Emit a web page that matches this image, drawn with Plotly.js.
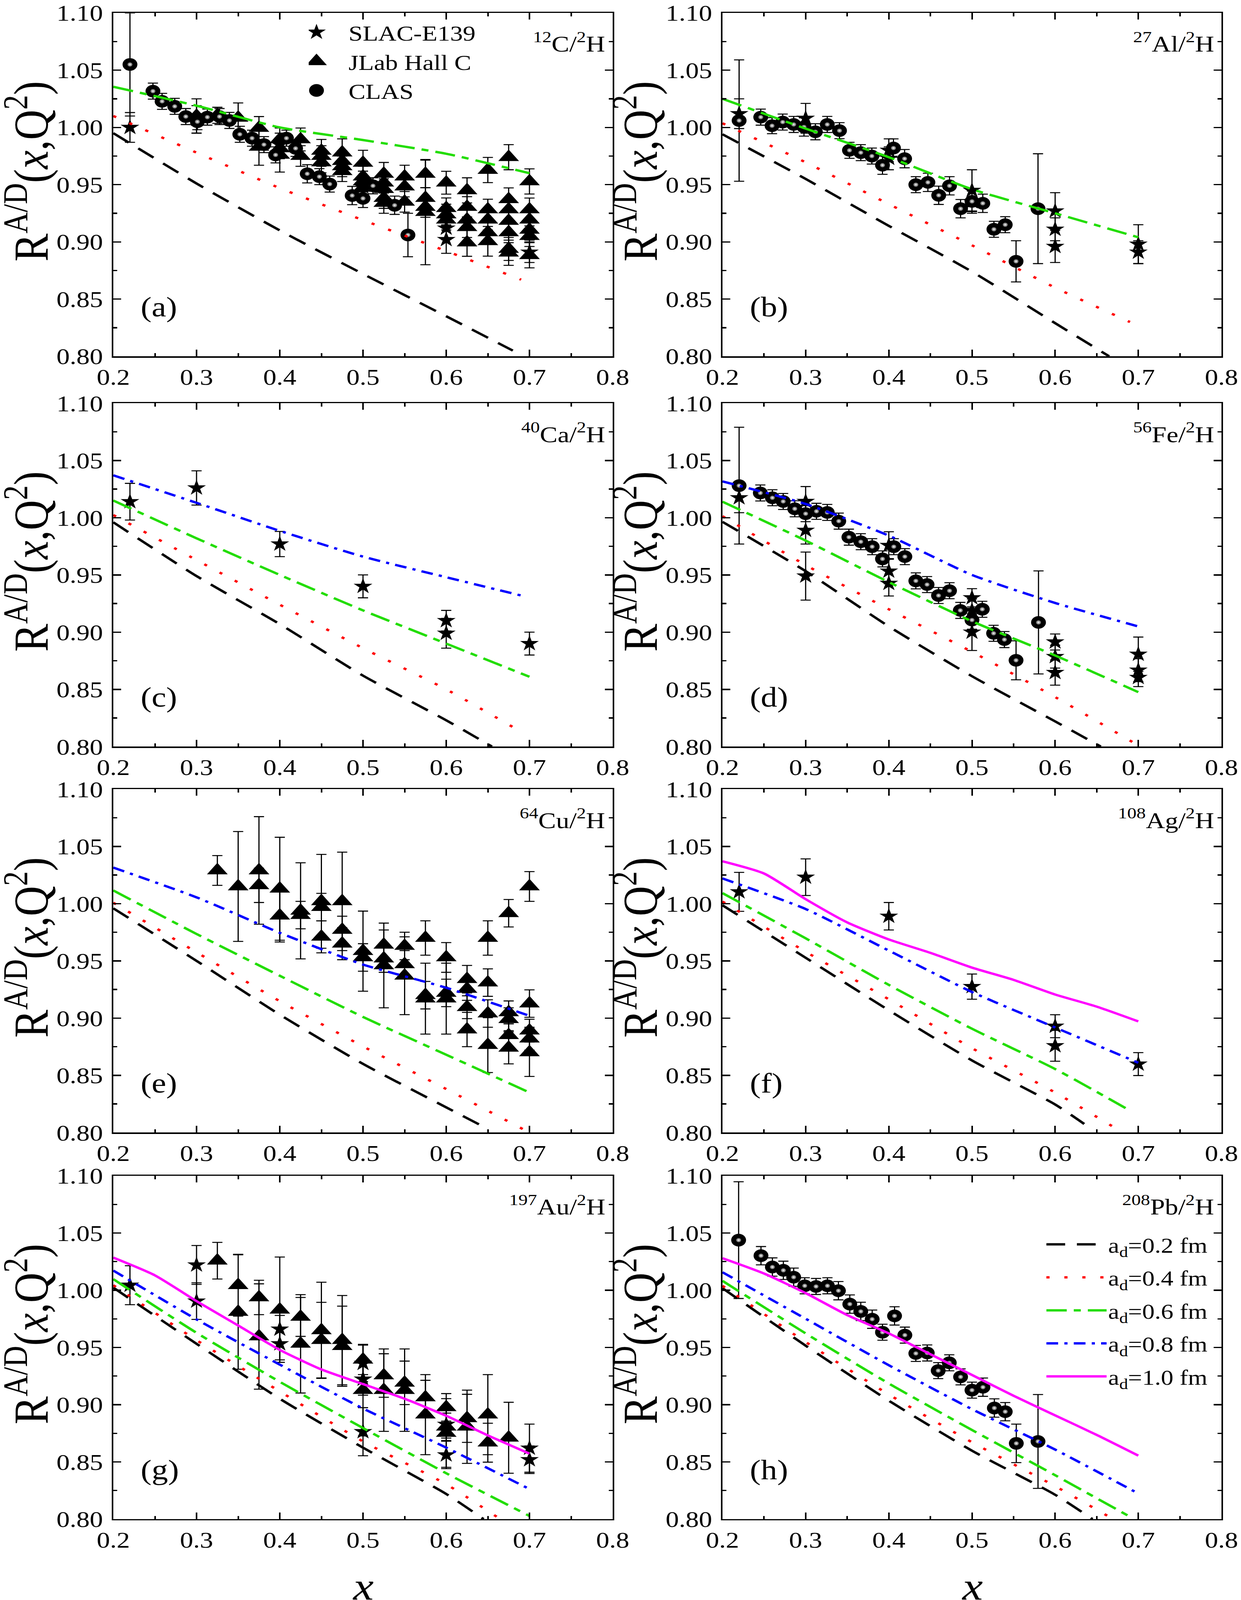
<!DOCTYPE html>
<html>
<head>
<meta charset="utf-8">
<script src="https://cdn.plot.ly/plotly-3.0.1.min.js"></script>
<style>
html, body { margin: 0; padding: 0; background: #fff; overflow: hidden; }
#frame { overflow: hidden; }
</style>
</head>
<body>
<div id="frame"><div id="chart" style="width:3176px;height:4809px"></div></div>
<script>
// ===============================================
// DATA
// ===============================================

// x grids of the model curves
const xCoarse = [0.2, 0.3, 0.4, 0.5, 0.6, 0.7];
const xFine = [0.2, 0.25, 0.3, 0.35, 0.4, 0.45, 0.5, 0.55, 0.6, 0.65, 0.7];

// (a) 12C/2H
const slacA_x = [0.22, 0.30, 0.40, 0.50, 0.60, 0.60, 0.70];
const slacA_y = [1.000, 1.007, 0.985, 0.948, 0.912, 0.902, 0.891];
const slacA_e = [0.013, 0.012, 0.010, 0.009, 0.010, 0.012, 0.009];
const jlabA_x = [0.30,0.325,0.35,0.375,0.375,0.40,0.40,0.40,0.425,0.425,0.45,0.45,0.45,0.475,0.475,0.475,0.475,
  0.50,0.50,0.50,0.50,0.525,0.525,0.525,0.525,0.525,0.55,0.55,0.55,0.575,0.575,0.575,0.575,0.60,0.60,0.60,0.60,
  0.625,0.625,0.625,0.625,0.625,0.65,0.65,0.65,0.65,0.65,0.675,0.675,0.675,0.675,0.675,0.675,0.675,
  0.70,0.70,0.70,0.70,0.70,0.70];
const jlabA_y = [1.010,1.0106,1.0084,0.9995,0.983,0.9895,0.9817,0.976,0.9895,0.975,0.9795,0.975,0.9694,0.978,0.9706,0.966,0.9617,
  0.969,0.957,0.9528,0.9472,0.9594,0.9517,0.9461,0.9383,0.934,0.957,0.9483,0.935,0.9594,0.9383,0.9305,0.926,0.9517,0.9294,0.9239,0.9194,
  0.945,0.9305,0.9194,0.9128,0.8994,0.9628,0.9283,0.9194,0.9083,0.9005,0.974,0.9372,0.9283,0.9183,0.9083,0.8938,0.8905,
  0.9528,0.9283,0.9194,0.9105,0.905,0.8883];
const jlabA_e = [0.015,0.007,0.013,0.010,0.016,0.010,0.009,0.015,0.010,0.009,0.010,0.009,0.009,0.012,0.009,0.009,0.009,
  0.011,0.009,0.009,0.009,0.010,0.009,0.009,0.009,0.009,0.010,0.009,0.009,0.012,0.009,0.009,0.046,0.010,0.009,0.009,0.009,
  0.011,0.009,0.009,0.009,0.012,0.011,0.009,0.009,0.009,0.013,0.011,0.010,0.009,0.009,0.009,0.010,0.011,
  0.011,0.010,0.009,0.009,0.009,0.011];
const clasA_x = [0.22,0.2476,0.2586,0.2738,0.2871,0.301,0.313,0.3276,0.3395,0.352,0.3667,0.381,0.395,0.408,0.419,0.433,0.4476,0.46,0.487,0.5,0.512,0.538,0.554];
const clasA_y = [1.055,1.0317,1.0228,1.0184,1.0095,1.005,1.009,1.0095,1.0061,0.994,0.9906,0.985,0.976,0.9906,0.9817,0.9595,0.957,0.9505,0.9405,0.938,0.949,0.932,0.906];
const clasA_e = [0.045,0.007,0.007,0.007,0.007,0.007,0.007,0.007,0.007,0.007,0.007,0.007,0.007,0.007,0.007,0.008,0.007,0.007,0.008,0.008,0.007,0.008,0.019];
const blackA_x = [0.2, 0.3, 0.4, 0.5, 0.6, 0.68];
const blackA_y = [0.995, 0.951, 0.910, 0.872, 0.835, 0.805];
const redA_x = [0.2, 0.3, 0.4, 0.5, 0.6, 0.69];
const redA_y = [1.010, 0.978, 0.947, 0.919, 0.892, 0.867];
const greenA_y = [1.0355, 1.019, 1.000, 0.989, 0.977, 0.960];

// (b) 27Al/2H
const slacB_x = [0.22, 0.30, 0.40, 0.40, 0.50, 0.50, 0.60, 0.60, 0.60, 0.70, 0.70];
const slacB_y = [1.012, 1.008, 0.980, 0.973, 0.945, 0.935, 0.927, 0.911, 0.896, 0.898, 0.891];
const slacB_e = [0.013, 0.013, 0.010, 0.010, 0.018, 0.010, 0.016, 0.010, 0.014, 0.017, 0.010];
const clasB_x = [0.22,0.246,0.2596,0.2724,0.2856,0.298,0.3117,0.326,0.3407,0.3527,0.3663,0.3796,0.3924,0.4056,0.419,0.4325,0.447,0.46,0.473,0.4863,0.5,0.513,0.5264,0.54,0.553,0.5794];
const clasB_y = [1.006,1.009,1.0015,1.0047,1.0026,1.0004,0.9962,1.0026,0.9972,0.980,0.978,0.975,0.967,0.982,0.9727,0.950,0.952,0.9407,0.949,0.929,0.9354,0.9337,0.911,0.915,0.883,0.929];
const clasB_e = [0.053,0.007,0.007,0.007,0.007,0.008,0.007,0.007,0.007,0.007,0.007,0.007,0.008,0.008,0.008,0.007,0.008,0.008,0.008,0.008,0.009,0.008,0.007,0.007,0.018,0.048];
const blackB_x = [0.2, 0.3, 0.4, 0.5, 0.6, 0.665];
const blackB_y = [0.994, 0.955, 0.914, 0.874, 0.829, 0.800];
const redB_x = [0.2, 0.3, 0.4, 0.5, 0.6, 0.69];
const redB_y = [1.0036, 0.9695, 0.933, 0.897, 0.860, 0.830];
const greenB_y = [1.025, 0.999, 0.974, 0.946, 0.925, 0.904];

// (c) 40Ca/2H
const slacC_x = [0.22, 0.30, 0.40, 0.50, 0.60, 0.60, 0.70];
const slacC_y = [1.014, 1.026, 0.977, 0.940, 0.910, 0.899, 0.890];
const slacC_e = [0.016, 0.015, 0.011, 0.010, 0.009, 0.013, 0.010];
const blackC_x = [0.2, 0.3, 0.4, 0.5, 0.6, 0.655];
const blackC_y = [0.996, 0.949, 0.907, 0.862, 0.823, 0.800];
const redC_x = [0.2, 0.3, 0.4, 0.5, 0.6, 0.685];
const redC_y = [1.0023, 0.963, 0.924, 0.886, 0.850, 0.815];
const greenC_y = [1.015, 0.982, 0.950, 0.919, 0.890, 0.861];
const blueC_x = [0.2, 0.3, 0.4, 0.5, 0.6, 0.69];
const blueC_y = [1.037, 1.013, 0.9885, 0.966, 0.948, 0.932];

// (d) 56Fe/2H
const slacD_x = [0.22,0.30,0.30,0.30,0.40,0.40,0.40,0.50,0.50,0.50,0.60,0.60,0.60,0.70,0.70,0.70];
const slacD_y = [1.0174,1.0142,0.989,0.949,0.9757,0.9533,0.9426,0.930,0.919,0.900,0.8914,0.8786,0.8647,0.8807,0.8668,0.8604];
const slacD_e = [0.013,0.013,0.012,0.021,0.012,0.011,0.011,0.008,0.010,0.016,0.007,0.010,0.011,0.015,0.010,0.008];
const clasD_x = [0.22,0.2455,0.26,0.273,0.2869,0.30,0.313,0.326,0.3398,0.352,0.3663,0.38,0.3924,0.406,0.4193,0.4325,0.446,0.4598,0.473,0.486,0.50,0.5124,0.526,0.539,0.553,0.58];
const clasD_y = [1.028,1.0216,1.0174,1.0142,1.0078,1.0035,1.0056,1.0046,0.997,0.983,0.979,0.9747,0.964,0.9747,0.966,0.9448,0.9416,0.932,0.9362,0.919,0.9106,0.920,0.899,0.8935,0.8754,0.9085];
const clasD_e = [0.051,0.007,0.007,0.007,0.007,0.007,0.007,0.007,0.007,0.007,0.007,0.007,0.007,0.007,0.007,0.007,0.007,0.007,0.007,0.007,0.008,0.007,0.007,0.007,0.017,0.045];
const blackD_x = [0.2, 0.3, 0.4, 0.5, 0.6, 0.655];
const blackD_y = [0.9964, 0.9533, 0.905, 0.8615, 0.822, 0.800];
const redD_y = [1.0013, 0.9586, 0.920, 0.8828, 0.8433, 0.801];
const greenD_y = [1.014, 0.980, 0.9437, 0.9095, 0.8796, 0.8476];
const blueD_y = [1.0317, 1.012, 0.9843, 0.950, 0.9255, 0.905];

// (e) 64Cu/2H
const jlabE_x = [0.325,0.35,0.375,0.375,0.40,0.40,0.425,0.425,0.45,0.45,0.45,0.475,0.475,0.475,0.50,0.50,
  0.525,0.525,0.525,0.55,0.55,0.55,0.575,0.575,0.575,0.60,0.60,0.60,0.625,0.625,0.625,0.625,
  0.65,0.65,0.65,0.65,0.675,0.675,0.675,0.675,0.675,0.70,0.70,0.70,0.70,0.70];
const jlabE_y = [1.029,1.015,1.029,1.016,1.013,0.9895,0.9937,0.990,1.002,0.997,0.971,1.002,0.977,0.965,0.9585,0.953,
  0.964,0.952,0.946,0.963,0.947,0.937,0.970,0.920,0.917,0.953,0.922,0.917,0.934,0.9255,0.9095,0.890,
  0.970,0.931,0.904,0.8764,0.9916,0.905,0.899,0.885,0.874,1.015,0.9127,0.889,0.882,0.870];
const jlabE_e = [0.013,0.048,0.047,0.015,0.045,0.023,0.042,0.012,0.041,0.012,0.014,0.043,0.012,0.014,0.035,0.012,
  0.013,0.012,0.037,0.012,0.012,0.034,0.015,0.012,0.031,0.013,0.012,0.031,0.012,0.010,0.010,0.015,
  0.015,0.012,0.012,0.024,0.012,0.010,0.010,0.010,0.014,0.013,0.012,0.010,0.010,0.021];
const blackE_x = [0.2, 0.3, 0.4, 0.5, 0.6, 0.645];
const blackE_y = [0.9959, 0.950, 0.903, 0.860, 0.822, 0.805];
const redE_y = [1.0008, 0.9575, 0.9148, 0.8753, 0.838, 0.800];
const greenE_y = [1.0115, 0.9735, 0.937, 0.901, 0.868, 0.835];
const blueE_y = [1.0315, 1.0055, 0.9745, 0.9468, 0.9265, 0.902];

// (f) 108Ag/2H
const slacF_x = [0.22, 0.30, 0.40, 0.50, 0.60, 0.60, 0.70];
const slacF_y = [1.0103, 1.0231, 0.989, 0.9275, 0.8929, 0.8758, 0.8598];
const slacF_e = [0.017, 0.016, 0.012, 0.011, 0.010, 0.0135, 0.010];
const blackF_x = [0.2, 0.3, 0.4, 0.5, 0.6, 0.635];
const blackF_y = [0.9986, 0.9527, 0.9068, 0.863, 0.8245, 0.8075];
const redF_x = [0.2, 0.3, 0.4, 0.5, 0.6, 0.675];
const redF_y = [1.0018, 0.958, 0.9164, 0.8737, 0.835, 0.8028];
const greenF_x = [0.2, 0.3, 0.4, 0.5, 0.6, 0.69];
const greenF_y = [1.0092, 0.9697, 0.929, 0.8907, 0.8555, 0.8192];
const blueF_y = [1.022, 0.9953, 0.959, 0.9228, 0.8918, 0.861];
const magentaF_y = [1.037, 1.0263, 1.0039, 0.9836, 0.9687, 0.957, 0.9441, 0.9334, 0.9206, 0.910, 0.8971];

// (g) 197Au/2H
const slacG_x = [0.22,0.30,0.30,0.40,0.40,0.50,0.50,0.50,0.60,0.60,0.70,0.70];
const slacG_y = [1.0044,1.0221,0.9905,0.966,0.9532,0.9361,0.9223,0.8764,0.8828,0.8561,0.862,0.8519];
const slacG_e = [0.017,0.017,0.016,0.012,0.014,0.016,0.014,0.021,0.012,0.012,0.021,0.012];
const jlabG_x = [0.325,0.35,0.35,0.375,0.375,0.40,0.425,0.425,0.45,0.45,0.475,0.475,0.50,0.50,
  0.525,0.525,0.55,0.55,0.575,0.575,0.60,0.60,0.60,0.625,0.625,0.65,0.65,0.675];
const jlabG_y = [1.0258,1.0044,0.981,0.9937,0.9596,0.983,0.9767,0.9532,0.965,0.9564,0.9564,0.9511,0.9393,0.9127,
  0.9255,0.9127,0.9191,0.9127,0.9063,0.8913,0.8977,0.8807,0.8753,0.8881,0.8807,0.8913,0.8668,0.8711];
const jlabG_e = [0.016,0.027,0.050,0.015,0.046,0.046,0.017,0.043,0.042,0.033,0.039,0.035,0.013,0.040,
  0.019,0.036,0.019,0.036,0.015,0.035,0.012,0.012,0.030,0.021,0.032,0.035,0.017,0.031];
const blackG_x = [0.2, 0.3, 0.4, 0.5, 0.6, 0.645];
const blackG_y = [1.0023, 0.9532, 0.9052, 0.8625, 0.822, 0.800];
const redG_x = [0.2, 0.3, 0.4, 0.5, 0.6, 0.665];
const redG_y = [1.0044, 0.9564, 0.9116, 0.8679, 0.8305, 0.800];
const greenG_y = [1.0097, 0.9628, 0.920, 0.8796, 0.8401, 0.8028];
const blueG_y = [1.0172, 0.9745, 0.935, 0.8967, 0.8625, 0.8263];
const magentaG_y = [1.0285, 1.013, 0.9905, 0.9692, 0.9479, 0.9308, 0.918, 0.9052, 0.8903, 0.8732, 0.8572];

// (h) 208Pb/2H
const clasH_x = [0.2194,0.2463,0.26,0.2732,0.2856,0.2989,0.3125,0.3262,0.3394,0.3531,0.3663,0.38,0.3924,0.4069,0.4193,0.4325,0.4462,0.4594,0.4727,0.4863,0.5,0.5132,0.5269,0.54,0.5533,0.5794];
const clasH_y = [1.0438,1.0302,1.0203,1.0174,1.0114,1.0039,1.0033,1.0039,0.9996,0.9879,0.9815,0.9747,0.9633,0.9776,0.9608,0.9448,0.9452,0.9298,0.9366,0.9243,0.9127,0.9153,0.8971,0.8939,0.8662,0.8679];
const clasH_e = [0.051,0.008,0.008,0.008,0.008,0.007,0.007,0.007,0.008,0.008,0.008,0.008,0.007,0.008,0.007,0.007,0.007,0.007,0.007,0.007,0.007,0.008,0.008,0.008,0.0168,0.041];
const blackH_x = [0.2, 0.3, 0.4, 0.5, 0.6, 0.645];
const blackH_y = [1.0018, 0.9516, 0.9035, 0.8598, 0.8213, 0.800];
const redH_x = [0.2, 0.3, 0.4, 0.5, 0.6, 0.67];
const redH_y = [1.0039, 0.9548, 0.9089, 0.8672, 0.8288, 0.800];
const greenH_x = [0.2, 0.3, 0.4, 0.5, 0.6, 0.69];
const greenH_y = [1.0082, 0.9623, 0.9185, 0.8779, 0.8384, 0.8021];
const blueH_y = [1.0157, 0.9751, 0.9345, 0.8961, 0.8608, 0.8224];
const magentaH_y = [1.028, 1.0146, 0.9975, 0.9783, 0.9623, 0.9441, 0.926, 0.9078, 0.8907, 0.8736, 0.8555];

// axis ticks / labels
const yTickStep = 0.05;
const xTickStep = 0.1;
const panelLabels = ["(a)", "(b)", "(c)", "(d)", "(e)", "(f)", "(g)", "(h)"];
const nucleusLabels = [
    "<sup>12</sup>C/<sup>2</sup>H", "<sup>27</sup>Al/<sup>2</sup>H",
    "<sup>40</sup>Ca/<sup>2</sup>H", "<sup>56</sup>Fe/<sup>2</sup>H",
    "<sup>64</sup>Cu/<sup>2</sup>H", "<sup>108</sup>Ag/<sup>2</sup>H",
    "<sup>197</sup>Au/<sup>2</sup>H", "<sup>208</sup>Pb/<sup>2</sup>H"
];

// ===============================================
// STYLES
// ===============================================
const FONT = "Liberation Serif, Times New Roman, serif";
const W = 3176, H = 4809;

const curveStyle = {
    d02: { name: "a<sub>d</sub>=0.2 fm", color: "#000000", dash: "48px,30px" },
    d04: { name: "a<sub>d</sub>=0.4 fm", color: "#ff0000", dash: "8px,38px" },
    d06: { name: "a<sub>d</sub>=0.6 fm", color: "#22dd00", dash: "52px,18px,18px,18px" },
    d08: { name: "a<sub>d</sub>=0.8 fm", color: "#0000ff", dash: "30px,16px,8px,16px" },
    d10: { name: "a<sub>d</sub>=1.0 fm", color: "#ff00ff", dash: "solid" }
};

// panel table built from the arrays above
const panels = [
    { slac: [slacA_x, slacA_y, slacA_e], jlab: [jlabA_x, jlabA_y, jlabA_e], clas: [clasA_x, clasA_y, clasA_e],
      curves: [[blackA_x, blackA_y, "d02"], [redA_x, redA_y, "d04"], [xCoarse, greenA_y, "d06"]] },
    { slac: [slacB_x, slacB_y, slacB_e], clas: [clasB_x, clasB_y, clasB_e],
      curves: [[blackB_x, blackB_y, "d02"], [redB_x, redB_y, "d04"], [xCoarse, greenB_y, "d06"]] },
    { slac: [slacC_x, slacC_y, slacC_e],
      curves: [[blackC_x, blackC_y, "d02"], [redC_x, redC_y, "d04"], [xCoarse, greenC_y, "d06"], [blueC_x, blueC_y, "d08"]] },
    { slac: [slacD_x, slacD_y, slacD_e], clas: [clasD_x, clasD_y, clasD_e],
      curves: [[blackD_x, blackD_y, "d02"], [xCoarse, redD_y, "d04"], [xCoarse, greenD_y, "d06"], [xCoarse, blueD_y, "d08"]] },
    { jlab: [jlabE_x, jlabE_y, jlabE_e],
      curves: [[blackE_x, blackE_y, "d02"], [xCoarse, redE_y, "d04"], [xCoarse, greenE_y, "d06"], [xCoarse, blueE_y, "d08"]] },
    { slac: [slacF_x, slacF_y, slacF_e],
      curves: [[blackF_x, blackF_y, "d02"], [redF_x, redF_y, "d04"], [greenF_x, greenF_y, "d06"], [xCoarse, blueF_y, "d08"], [xFine, magentaF_y, "d10"]] },
    { slac: [slacG_x, slacG_y, slacG_e], jlab: [jlabG_x, jlabG_y, jlabG_e],
      curves: [[blackG_x, blackG_y, "d02"], [redG_x, redG_y, "d04"], [xCoarse, greenG_y, "d06"], [xCoarse, blueG_y, "d08"], [xFine, magentaG_y, "d10"]] },
    { clas: [clasH_x, clasH_y, clasH_e],
      curves: [[blackH_x, blackH_y, "d02"], [redH_x, redH_y, "d04"], [greenH_x, greenH_y, "d06"], [xCoarse, blueH_y, "d08"], [xFine, magentaH_y, "d10"]] }
];

// page geometry (pixels)
const colLeft = [290, 1849];
const colRight = [1568, 3126];
const rowTop = [39, 1212, 2372, 3534];
const plotH = 1032;

// ===============================================
// BUILD TRACES + AXES
// ===============================================
const traces = [];
const layout = {
    width: W, height: H,
    margin: { l: 0, r: 0, t: 0, b: 0 },
    paper_bgcolor: "white", plot_bgcolor: "white",
    font: { family: FONT, color: "black" },
    showlegend: true,
    annotations: [],
    legend: {
        x: 790 / W, y: 1 - 48 / H, xanchor: "left", yanchor: "top",
        bgcolor: "rgba(0,0,0,0)", borderwidth: 0,
        font: { family: FONT, size: 65, color: "black" },
        itemwidth: 92, itemclick: false
    },
    legend2: {
        x: 2673 / W, y: 1 - 3692 / H, xanchor: "left", yanchor: "top",
        bgcolor: "rgba(0,0,0,0)", borderwidth: 0,
        font: { family: FONT, size: 64, color: "black" },
        itemwidth: 153, itemclick: false,
        traceorder: "grouped", tracegroupgap: 13
    }
};

function errBar(arr) {
    return { type: "data", array: arr, visible: true, color: "black", thickness: 3, width: 13 };
}

panels.forEach((p, i) => {
    const n = i + 1;
    const sfx = n === 1 ? "" : String(n);
    const xa = "x" + sfx, ya = "y" + sfx;
    const col = i % 2, row = Math.floor(i / 2);
    const inLegend1 = i === 0, inLegend2 = i === 7;

    // axes
    const tickfont = { family: FONT, size: 68, color: "black" };
    layout["xaxis" + sfx] = {
        domain: [colLeft[col] / W, colRight[col] / W], anchor: ya,
        range: [0.2, 0.8], tick0: 0.2, dtick: xTickStep, tickformat: ".1f",
        showline: true, linecolor: "black", linewidth: 4, mirror: "ticks",
        ticks: "inside", ticklen: 20, tickwidth: 4, tickcolor: "black",
        minor: { dtick: xTickStep / 2, ticks: "inside", ticklen: 10, tickwidth: 4, tickcolor: "black" },
        showgrid: false, zeroline: false, tickfont: tickfont, ticklabelstandoff: 0,
        fixedrange: true
    };
    layout["yaxis" + sfx] = {
        domain: [1 - (rowTop[row] + plotH) / H, 1 - rowTop[row] / H], anchor: xa,
        range: [0.8, 1.1], tick0: 0.8, dtick: yTickStep, tickformat: ".2f",
        showline: true, linecolor: "black", linewidth: 4, mirror: "ticks",
        ticks: "inside", ticklen: 20, tickwidth: 4, tickcolor: "black",
        minor: { dtick: yTickStep / 2, ticks: "inside", ticklen: 10, tickwidth: 4, tickcolor: "black" },
        showgrid: false, zeroline: false, tickfont: tickfont, ticklabelstandoff: 9,
        fixedrange: true
    };

    // data points
    if (p.slac) {
        traces.push({
            x: p.slac[0], y: p.slac[1], error_y: errBar(p.slac[2]),
            type: "scatter", mode: "markers", xaxis: xa, yaxis: ya,
            name: "SLAC-E139", showlegend: inLegend1, legend: "legend",
            marker: { symbol: "star", size: 36, color: "black", line: { width: 0 } }
        });
    }
    if (p.jlab) {
        traces.push({
            x: p.jlab[0], y: p.jlab[1], error_y: errBar(p.jlab[2]),
            type: "scatter", mode: "markers", xaxis: xa, yaxis: ya,
            name: "JLab Hall C", showlegend: inLegend1, legend: "legend",
            marker: { symbol: "triangle-up", size: 46, color: "black", line: { width: 0 } }
        });
    }
    if (p.clas) {
        traces.push({
            x: p.clas[0], y: p.clas[1], error_y: errBar(p.clas[2]),
            type: "scatter", mode: "markers", xaxis: xa, yaxis: ya,
            name: "CLAS", showlegend: inLegend1, legend: "legend",
            marker: { symbol: "circle", size: 38, color: "black", line: { width: 0 } }
        });
        // shiny highlight on the spheres
        traces.push({
            x: p.clas[0], y: p.clas[1],
            type: "scatter", mode: "markers", xaxis: xa, yaxis: ya,
            showlegend: false, hoverinfo: "skip",
            marker: { symbol: "circle", size: 13, color: "#555555", line: { width: 0 },
                      gradient: { type: "radial", color: "#ffffff" } }
        });
    }

    // model curves
    p.curves.forEach(c => {
        const st = curveStyle[c[2]];
        traces.push({
            x: c[0], y: c[1], type: "scatter", mode: "lines",
            xaxis: xa, yaxis: ya, name: st.name,
            showlegend: inLegend2, legend: "legend2", legendgroup: c[2],
            line: { color: st.color, width: 7, dash: st.dash, shape: "spline", smoothing: 0.6 }
        });
    });

    // panel letter + nucleus ratio
    layout.annotations.push({
        xref: xa, yref: ya, x: 0.232, y: 0.843, xanchor: "left", yanchor: "middle",
        text: panelLabels[i], showarrow: false, font: { family: FONT, size: 84, color: "black" }
    });
    layout.annotations.push({
        xref: xa, yref: ya, x: 0.792, y: 1.074, xanchor: "right", yanchor: "middle",
        text: nucleusLabels[i], showarrow: false, font: { family: FONT, size: 68, color: "black" }
    });

    // y title
    layout.annotations.push({
        xref: "paper", yref: "paper",
        x: (colLeft[col] - 220) / W, y: 1 - (rowTop[row] + 476) / H,
        xanchor: "center", yanchor: "middle", textangle: -90,
        text: "R<sup>A/D</sup>(<i>x</i>,Q<sup>2</sup>)", showarrow: false,
        font: { family: FONT, size: 126, color: "black" }
    });

    // x title under the bottom row
    if (row === 3) {
        layout.annotations.push({
            xref: "paper", yref: "paper",
            x: (colLeft[col] + colRight[col]) / 2 / W, y: 1 - 4768 / H,
            xanchor: "center", yanchor: "middle",
            text: "<i>x</i>", showarrow: false,
            font: { family: FONT, size: 118, color: "black" }
        });
    }
});

// ===============================================
// RENDER
// ===============================================
const gd = document.getElementById("chart");
const frame = document.getElementById("frame");

// if the visible window is smaller than the figure, shrink the whole figure into it
function fitToWindow() {
    const vw = window.innerWidth || W;
    const vh = window.innerHeight || H;
    const sx = Math.min(1, vw / W);
    const sy = Math.min(1, vh / H);
    frame.style.width = Math.round(W * sx) + "px";
    frame.style.height = Math.round(H * sy) + "px";
    if (sx < 0.999 || sy < 0.999) {
        gd.style.transformOrigin = "0 0";
        gd.style.transform = "scale(" + sx + "," + sy + ")";
    } else {
        gd.style.transform = "none";
    }
}

Plotly.newPlot(gd, traces, layout, { staticPlot: true, displayModeBar: false }).then(() => {
    // legend keys are drawn small by Plotly: stretch lines, enlarge symbols
    gd.querySelectorAll(".legendlines path").forEach(pth => pth.setAttribute("d", "M5,0h154"));
    const symbolScale = [36 / 16, 46 / 16, 38 / 16];
    gd.querySelectorAll("path.scatterpts").forEach((pth, k) => {
        const s = symbolScale[k] || 2.3;
        pth.setAttribute("transform", "translate(20,0) scale(" + s + ")");
    });
    // drop the empty placeholder texts Plotly leaves behind
    gd.querySelectorAll("text").forEach(t => { if (!t.textContent.trim()) t.remove(); });
    fitToWindow();
});
</script>
</body>
</html>
